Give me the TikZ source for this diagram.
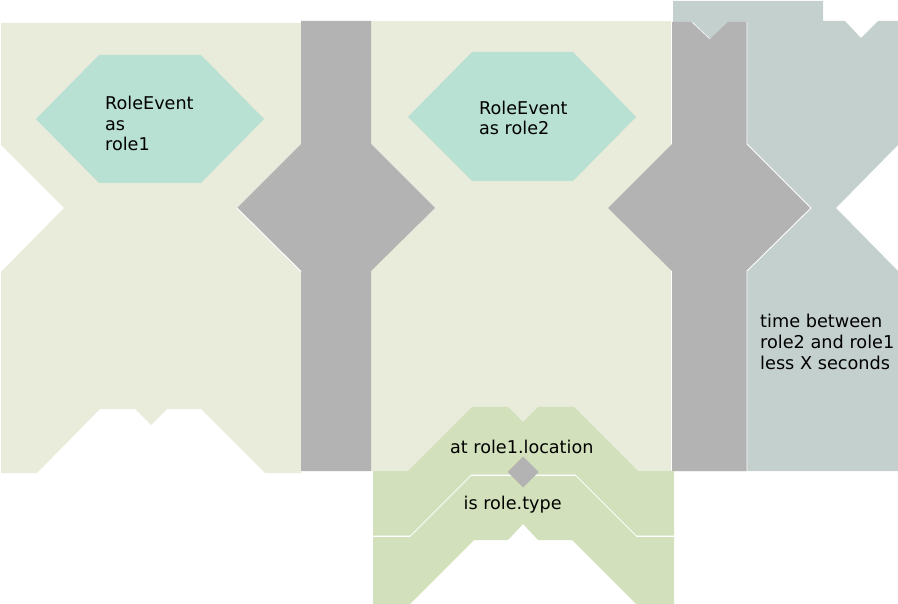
\documentclass[tikz,border=0pt]{standalone}
\usepackage{fontspec}
\setmainfont{DejaVu Sans}
\definecolor{beige}{HTML}{E9EBDB}
\definecolor{teal}{HTML}{B8E0D3}
\definecolor{graypc}{HTML}{B3B3B3}
\definecolor{bluegray}{HTML}{C4D0CD}
\definecolor{greenpc}{HTML}{D2E1BB}
\begin{document}
\begin{tikzpicture}[x=1pt,y=-1pt,
  beigepc/.style={fill=beige,draw=none},
  hexpc/.style={fill=teal,draw=none},
  graypiece/.style={fill=graypc,draw=none},
  bgpiece/.style={fill=bluegray,draw=none},
  greenpiece/.style={fill=greenpc,draw=none},
  hl/.style={draw=white,line width=0.9pt},
  lbl/.style={anchor=base west,inner sep=0pt,align=left,font=\fontsize{17.6}{20.4}\selectfont}]
\useasboundingbox (0,0) rectangle (898,604);
% beige piece 1
\fill[beigepc] (1,23) -- (301,23) -- (301,473) -- (265,473) -- (201,409) -- (167,409) -- (151,425) -- (135,409) -- (100,409) -- (37,473) -- (1,473) -- (1,272) -- (64,208) -- (1,145) -- cycle;
% beige piece 2
\fill[beigepc] (371,21) rectangle (671,471);
% blue-gray piece
\fill[bgpiece] (673,1) -- (823,1) -- (823,21) -- (845,21) -- (861,38) -- (878,21) -- (898,21) -- (898,145) -- (836,208) -- (898,271) -- (898,471) -- (673,471) -- cycle;
% gray piece 1
\fill[graypiece] (301,21) -- (371,21) -- (371,144) -- (435,208) -- (371,271) -- (371,471) -- (301,471) -- (301,271) -- (237,208) -- (301,144) -- cycle;
\draw[hl] (237,208) -- (301,271.5);
% gray piece 2
\fill[graypiece] (672,22) -- (692,22) -- (710,39) -- (728,22) -- (747,22) -- (747,144) -- (811,208) -- (747,271) -- (747,471) -- (672,471) -- (672,271) -- (608,208) -- (672,144) -- cycle;
\draw[hl] (747,22) -- (747,144) -- (811,208) -- (747,271) -- (747,471);
\draw[hl,line width=0.6pt] (692,22) -- (710,39);
% hexagons
\fill[hexpc] (36,119) -- (99,55) -- (201,55) -- (264,119) -- (201,183) -- (99,183) -- cycle;
\fill[hexpc] (408,117) -- (472,52) -- (573,52) -- (636,117) -- (573,181) -- (472,181) -- cycle;
% green piece 2 (lower)
\fill[greenpiece] (373,537) -- (410,537) -- (471,476) -- (575.5,476) -- (636.5,537) -- (674,537) -- (674,604) -- (636,604) -- (572,540) -- (538,540) -- (523,524) -- (508,540) -- (474,540) -- (410,604) -- (373,604) -- cycle;
% green piece 1 (upper)
\fill[greenpiece] (373,471) -- (408,471) -- (472,407) -- (508,407) -- (523,422) -- (538,407) -- (574,407) -- (638,471) -- (674,471) -- (674,535.5) -- (636.5,535.5) -- (575.5,474.5) -- (471,474.5) -- (410,535.5) -- (373,535.5) -- cycle;
% small diamond
\fill[graypiece] (507.5,472) -- (523,456.5) -- (538.5,472) -- (523,487.5) -- cycle;
% labels (base anchor of a multi-line node = last line's baseline)
\node[lbl,font=\fontsize{17.6}{20.2}\selectfont] (t1) at (105,150.3) {RoleEvent\\as\\role1};
\node[lbl,font=\fontsize{17.6}{20.7}\selectfont] (t2) at (479,135) {RoleEvent\\as role2};
\node[lbl,font=\fontsize{17.7}{21.4}\selectfont] (t3) at (760,370) {time between\\role2 and role1\\less X seconds};
\node[lbl] (t4) at (450,453.3) {at role1.location};
\node[lbl] (t5) at (463.5,509) {is role.type};
\end{tikzpicture}
\end{document}
